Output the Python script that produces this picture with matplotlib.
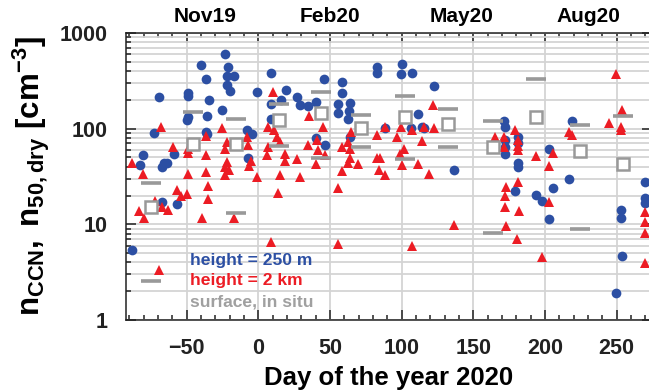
import matplotlib
matplotlib.use("Agg")
import matplotlib.pyplot as plt
from matplotlib.ticker import MultipleLocator, LogLocator, NullFormatter

plt.rcParams['font.family'] = ['Liberation Sans', 'DejaVu Sans']
plt.rcParams['font.weight'] = 'bold'
plt.rcParams['mathtext.fontset'] = 'custom'
plt.rcParams['mathtext.rm'] = 'Liberation Sans:bold'
plt.rcParams['mathtext.bf'] = 'Liberation Sans:bold'
plt.rcParams['mathtext.it'] = 'Liberation Sans:bold'

# height = 250 m (blue circles)
b_day = [-88.3, -82.6, -80.7, -73, -69, -67.2, -67.4, -66, -64, -59,
         -56.5, -50, -49, -48.8, -48.8, -40, -36.7, -36.5, -36, -35.6,
         -34.6, -25, -23.2, -21.6, -21.6, -21, -20, -17, -7.6, -7.4,
         -4.6, -1, 8.6, 8.6, 8.6, 15.8, 19.3, 26.8, 29, 35,
         40.5, 40.5, 45.6, 46.5, 55.4, 55.8, 58.4, 58.6, 64, 63.3,
         62.9, 64, 82.6, 82.6, 88.4, 99.4, 100.5, 106.6, 107, 111.7,
         114, 115.8, 122.8, 136.3, 171.7, 172, 172, 172, 172, 179,
         181.4, 181.4, 181.4, 181.4, 193.8, 197.8, 203, 203, 205.9, 216.8,
         218.7, 249.4, 253, 252.9, 253.6, 270, 270, 270]
b_val = [5.4, 42, 53, 91, 215, 17.2, 40, 44, 44, 54,
         16.2, 123, 131, 219, 237, 465, 327, 93, 135, 88,
         198, 155, 602, 355, 286, 443, 249, 355, 97, 49,
         89, 241, 378, 180, 125, 199, 255, 215, 176, 172,
         190, 79, 327, 67, 181, 147, 307, 234, 186, 154,
         125, 82, 437, 384, 101, 372, 473, 101, 378, 142,
         104, 101, 279, 37, 121, 103, 76, 65, 54, 22.3,
         82, 70, 44, 40, 20.2, 17.6, 62, 11.4, 24.1, 29.5,
         121, 1.9, 14.2, 11.7, 4.7, 28, 18.7, 16.6]

# height = 2 km (red triangles)
r_pts = [(-88.4, 43.4), (-83, 13.8), (-80.7, 33.5), (-80, 11.7), (-72, 17.5), (-69, 3.3),
         (-67.9, 103), (-67.4, 15.3), (-63.2, 14.1), (-59.3, 65), (-57, 22.8), (-54, 20),
         (-50, 21), (-48.8, 61), (-48.8, 56), (-48.8, 33.5), (-39.5, 11.7), (-36.5, 84),
         (-36.5, 53), (-36.5, 35.5), (-35, 25.3), (-35.3, 18.4), (-25, 102), (-22, 73),
         (-23, 61), (-22, 45), (-23, 40), (-20.5, 37), (-23, 33), (-17, 11.7), (-8, 82),
         (-7, 67), (-5.3, 46), (-6.5, 41), (-1, 31.5), (5.9, 53), (7, 103), (7, 65),
         (8.6, 6.5), (10.5, 241), (11, 97), (12.8, 82), (15.1, 73), (13.5, 21.5), (15, 33),
         (19, 54), (19, 46), (26.8, 48), (29, 31.5), (35.4, 135), (35, 67), (40.7, 76),
         (41.9, 60), (40, 43), (45.4, 103), (46.5, 53), (55.8, 24.1), (55.4, 6.2), (58.2, 65),
         (58.2, 36), (62.8, 73), (62.8, 44), (64, 61), (64, 49), (64.7, 93), (69.4, 43),
         (82.6, 86), (83, 49), (85, 49), (84.4, 37), (88.4, 103), (88.4, 33), (97, 81),
         (98.9, 54), (99.4, 104), (100.5, 41.7), (101.7, 62), (107, 98), (107, 6.0),
         (111.7, 42.7), (114, 75), (115.6, 104), (119.3, 33.5), (122, 175), (122.8, 101),
         (136.6, 9.8), (165, 81), (171.7, 81), (171.7, 65), (172.9, 24.7), (172.4, 20),
         (172, 15), (172.9, 9.7), (179, 97), (180.3, 7.0), (181.4, 76), (181.4, 66),
         (181.4, 60), (181.4, 27.5), (182, 13.8), (193.8, 52), (198.2, 4.6), (202.6, 17.2),
         (203, 41), (205.9, 56), (217, 93), (218.7, 86), (245, 115), (249.4, 372),
         (253, 104), (253, 97), (253.6, 156), (270, 13.6), (270, 10.6), (270, 8.1), (270, 3.9)]
r_day = [p[0] for p in r_pts]
r_val = [p[1] for p in r_pts]

# surface, in situ (gray bars and squares)
g_day = [-75, -75, -45.3, -15.6, -15.6, 14.7, 14.7, 43.8, 43.8, 71.7, 71.7,
         102.4, 102.4, 132.6, 132.6, 163.6, 163.6, 193.6, 224.5, 224.5, 254.7]
g_val = [27.2, 2.56, 148, 126, 13, 180, 66, 241, 49, 138, 65,
         219, 48, 160, 64, 120, 8.2, 327, 109, 8.9, 136]
s_day = [-75, -45.3, -15.6, 14.7, 43.8, 71.7, 102.4, 132.6, 163.6, 193.6, 224.5, 254.7]
s_val = [15.1, 69, 69, 123, 145, 101, 133, 112, 64, 131, 59, 43]

month_pos = [-37, 50, 142, 230.5]
month_lab = ['Nov19', 'Feb20', 'May20', 'Aug20']

blue = '#2c4fa3'
red = '#ec1c24'
gray = '#999999'

fig = plt.figure(figsize=(6.49, 3.91), dpi=100)
ax = fig.add_axes([0.1941, 0.1816, 0.8105, 0.734])

ax.plot(b_day, b_val, 'o', color=blue, ms=7, mew=0, zorder=3)
ax.plot(r_day, r_val, '^', color=red, ms=7.5, mew=0, zorder=4)
ax.plot(g_day, g_val, '_', color=gray, ms=14, mew=2.6, zorder=5)
ax.plot(s_day, s_val, 's', mfc='white', mec=gray, ms=9, mew=1.8, zorder=5)

ax.set_yscale('log')
ax.set_ylim(1, 1000)
ax.set_xlim(-92.3, 274.7)

ax.xaxis.set_major_locator(MultipleLocator(50))
ax.xaxis.set_minor_locator(MultipleLocator(10))
ax.yaxis.set_minor_locator(LogLocator(base=10, subs=range(2, 10)))
ax.yaxis.set_minor_formatter(NullFormatter())
ax.set_yticks([1, 10, 100, 1000])
ax.set_yticklabels(['1', '10', '100', '1000'])

ax.grid(True, which='major', axis='x', color='#d4d4d4', lw=1.3, zorder=0)
ax.grid(True, which='both', axis='y', color='#d4d4d4', lw=1.3, zorder=0)
ax.set_axisbelow(True)

ax.tick_params(which='both', direction='in', top=True, colors='#222222', width=1.1)
ax.tick_params(which='major', right=True, length=7, labelsize=15.5)
ax.tick_params(which='minor', right=False, length=3.5)
ax.tick_params(axis='y', which='major', pad=13)
ax.tick_params(axis='x', which='major', pad=13)
for s in ax.spines.values():
    s.set_linewidth(1.1)
    s.set_color('#222222')

sec = ax.secondary_xaxis('top')
sec.set_xticks(month_pos)
sec.set_xticklabels(month_lab)
sec.tick_params(length=0, labelsize=15, pad=5)
sec.spines['top'].set_visible(False)

ax.set_xlabel('Day of the year 2020', fontsize=18.5, fontweight='bold', labelpad=5)
ax.set_ylabel(r'$\mathbf{n_{CCN},\;n_{50,dry}\ [cm^{-3}]}$', fontsize=22.5, labelpad=6)

ax.text(0.122, 0.209, 'height = 250 m', color=blue, fontsize=12.6, fontweight='bold',
        transform=ax.transAxes, va='center')
ax.text(0.122, 0.139, 'height = 2 km', color=red, fontsize=12.6, fontweight='bold',
        transform=ax.transAxes, va='center')
ax.text(0.122, 0.064, 'surface, in situ', color='#a0a0a0', fontsize=12.6, fontweight='bold',
        transform=ax.transAxes, va='center')

fig.savefig('out.png', dpi=100)
